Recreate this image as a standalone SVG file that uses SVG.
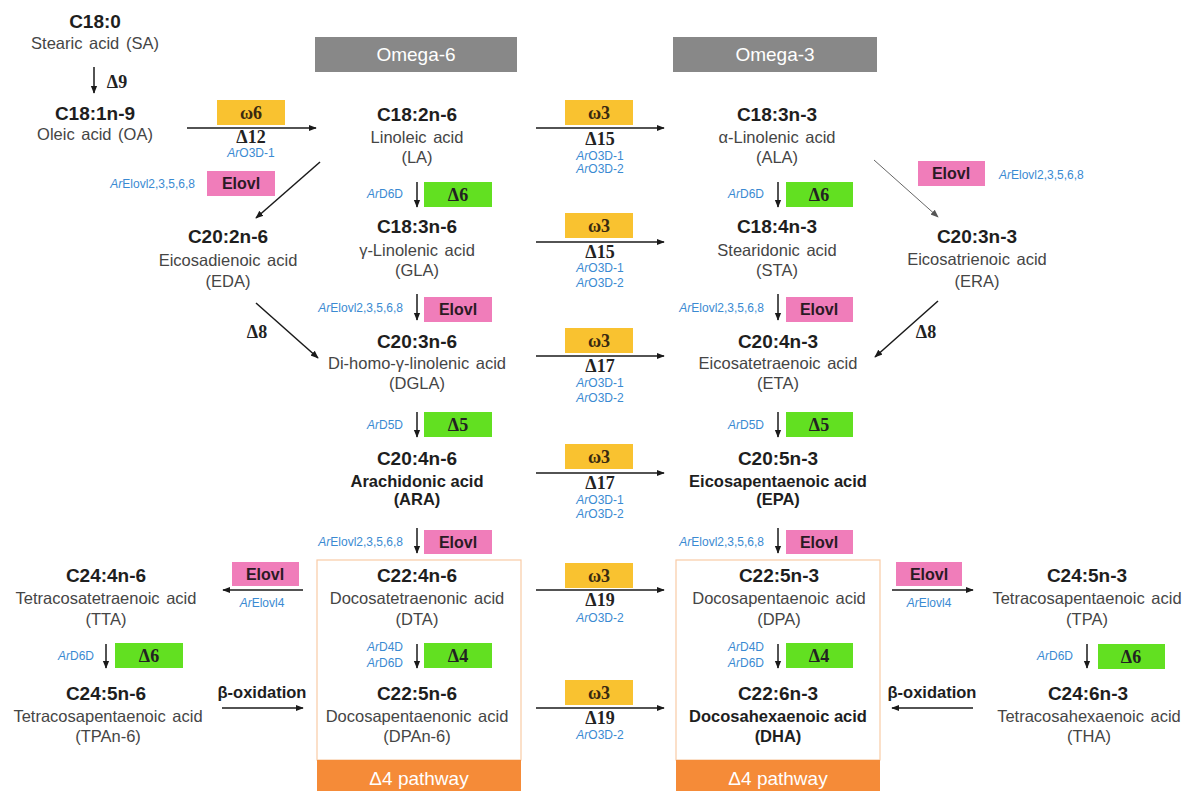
<svg xmlns="http://www.w3.org/2000/svg" width="1198" height="791" viewBox="0 0 1198 791">
<defs>
<marker id="ah" viewBox="0 0 10 10" refX="9" refY="5" markerWidth="8" markerHeight="8" orient="auto" markerUnits="userSpaceOnUse"><path d="M0,1 L10,5 L0,9 z" fill="#1a1a1a"/></marker>
<marker id="ahg" viewBox="0 0 10 10" refX="9" refY="5" markerWidth="8" markerHeight="8" orient="auto" markerUnits="userSpaceOnUse"><path d="M0,1 L10,5 L0,9 z" fill="#555"/></marker>
</defs>
<style>
text{font-family:"Liberation Sans",Arial,sans-serif}
.f{font-weight:bold;font-size:19px;fill:#1e1e1e;text-anchor:middle}
.n{font-size:16.5px;fill:#454545;text-anchor:middle;word-spacing:2px}
.nb{font-size:16.5px;font-weight:bold;fill:#1e1e1e;text-anchor:middle}
.b{font-size:12px;fill:#3a8ad2}
.bi{font-style:italic}
.r{text-anchor:end}
.m{text-anchor:middle}
.d{font-family:"Liberation Serif",serif;font-weight:bold;font-size:18px;fill:#222;text-anchor:middle}
.om{font-family:"Liberation Serif",serif;font-weight:bold;font-size:18px;fill:#3a2a10;text-anchor:middle}
.el{font-weight:bold;font-size:16px;fill:#2b1a24;text-anchor:middle}
.hd{font-size:19px;fill:#fff;text-anchor:middle}
.gold{fill:#F9C230}
.pink{fill:#F07DBA}
.green{fill:#62E021}
.ln{stroke:#1a1a1a;stroke-width:1.5;fill:none;marker-end:url(#ah)}
.lg{stroke:#666;stroke-width:1;fill:none;marker-end:url(#ahg)}
</style>
<rect width="1198" height="791" fill="#fff"/>

<g id="headers">
<rect x="315" y="37" width="202" height="35" fill="#888"/>
<text class="hd" x="416" y="61">Omega-6</text>
<rect x="673" y="37" width="204" height="35" fill="#888"/>
<text class="hd" x="775" y="61">Omega-3</text>
</g>

<g id="d4-pathway">
<rect x="317" y="560" width="204" height="200" fill="none" stroke="#F8CBA6" stroke-width="1.2"/>
<rect x="317" y="760" width="204" height="31" fill="#F58B38"/>
<text class="hd" x="419" y="785">Δ4 pathway</text>
<rect x="676" y="560" width="204" height="200" fill="none" stroke="#F8CBA6" stroke-width="1.2"/>
<rect x="676" y="760" width="204" height="31" fill="#F58B38"/>
<text class="hd" x="778" y="785">Δ4 pathway</text>
</g>

<g id="connectors">
<line class="ln" x1="94" y1="67" x2="94" y2="93"/>
<line class="ln" x1="187" y1="128" x2="316" y2="128"/>
<line class="ln" x1="320" y1="162" x2="256" y2="218"/>
<line class="ln" x1="256" y1="303" x2="318" y2="358"/>
<line class="lg" x1="874" y1="160" x2="938" y2="217"/>
<line class="ln" x1="938" y1="301" x2="875" y2="357"/>
<line class="ln" x1="536" y1="128" x2="664" y2="128"/>
<line class="ln" x1="536" y1="242" x2="664" y2="242"/>
<line class="ln" x1="536" y1="356" x2="664" y2="356"/>
<line class="ln" x1="536" y1="473" x2="664" y2="473"/>
<line class="ln" x1="536" y1="590" x2="664" y2="590"/>
<line class="ln" x1="536" y1="708" x2="664" y2="708"/>
<line class="ln" x1="417" y1="182" x2="417" y2="207"/>
<line class="ln" x1="417" y1="294" x2="417" y2="320"/>
<line class="ln" x1="417" y1="412" x2="417" y2="437"/>
<line class="ln" x1="417" y1="528" x2="417" y2="553"/>
<line class="ln" x1="417" y1="644" x2="417" y2="668"/>
<line class="ln" x1="778" y1="182" x2="778" y2="207"/>
<line class="ln" x1="778" y1="294" x2="778" y2="320"/>
<line class="ln" x1="778" y1="412" x2="778" y2="437"/>
<line class="ln" x1="778" y1="528" x2="778" y2="553"/>
<line class="ln" x1="778" y1="644" x2="778" y2="668"/>
<line class="ln" x1="303" y1="590" x2="223" y2="590"/>
<line class="ln" x1="222" y1="708" x2="303" y2="708"/>
<line class="ln" x1="106" y1="644" x2="106" y2="668"/>
<line class="ln" x1="892" y1="590" x2="973" y2="590"/>
<line class="ln" x1="973" y1="708" x2="892" y2="708"/>
<line class="ln" x1="1087" y1="644" x2="1087" y2="668"/>
</g>

<g id="enzymes">
<text class="d" x="117" y="88">Δ9</text>
<rect class="gold" x="217" y="100" width="68" height="25"/>
<text class="om" x="251" y="119">ω6</text>
<text class="d" x="251" y="143">Δ12</text>
<text class="b m" x="251" y="157"><tspan class="bi">Ar</tspan>O3D-1</text>
<rect class="pink" x="207" y="171" width="68" height="25"/>
<text class="el" x="241" y="189">Elovl</text>
<text class="b r" x="195" y="188"><tspan class="bi">Ar</tspan>Elovl2,3,5,6,8</text>
<text class="d" x="257" y="338">Δ8</text>

<rect class="pink" x="918" y="161" width="67" height="25"/>
<text class="el" x="951" y="179">Elovl</text>
<text class="b" x="999" y="179"><tspan class="bi">Ar</tspan>Elovl2,3,5,6,8</text>
<text class="d" x="926" y="338">Δ8</text>

<rect class="gold" x="565" y="100" width="68" height="25"/>
<text class="om" x="599" y="119">ω3</text>
<text class="d" x="600" y="145">Δ15</text>
<text class="b m" x="600" y="160"><tspan class="bi">Ar</tspan>O3D-1</text>
<text class="b m" x="600" y="173"><tspan class="bi">Ar</tspan>O3D-2</text>

<rect class="gold" x="565" y="213" width="68" height="25"/>
<text class="om" x="599" y="232">ω3</text>
<text class="d" x="600" y="258">Δ15</text>
<text class="b m" x="600" y="272"><tspan class="bi">Ar</tspan>O3D-1</text>
<text class="b m" x="600" y="287"><tspan class="bi">Ar</tspan>O3D-2</text>

<rect class="gold" x="565" y="328" width="68" height="25"/>
<text class="om" x="599" y="347">ω3</text>
<text class="d" x="600" y="372">Δ17</text>
<text class="b m" x="600" y="387"><tspan class="bi">Ar</tspan>O3D-1</text>
<text class="b m" x="600" y="402"><tspan class="bi">Ar</tspan>O3D-2</text>

<rect class="gold" x="565" y="444" width="68" height="25"/>
<text class="om" x="599" y="463">ω3</text>
<text class="d" x="600" y="489">Δ17</text>
<text class="b m" x="600" y="504"><tspan class="bi">Ar</tspan>O3D-1</text>
<text class="b m" x="600" y="518"><tspan class="bi">Ar</tspan>O3D-2</text>

<rect class="gold" x="565" y="563" width="68" height="25"/>
<text class="om" x="599" y="582">ω3</text>
<text class="d" x="600" y="606">Δ19</text>
<text class="b m" x="600" y="622"><tspan class="bi">Ar</tspan>O3D-2</text>

<rect class="gold" x="565" y="680" width="68" height="25"/>
<text class="om" x="599" y="699">ω3</text>
<text class="d" x="600" y="724">Δ19</text>
<text class="b m" x="600" y="739"><tspan class="bi">Ar</tspan>O3D-2</text>

<text class="b r" x="403" y="198"><tspan class="bi">Ar</tspan>D6D</text>
<rect class="green" x="424" y="182" width="68" height="25"/>
<text class="d" x="458" y="201">Δ6</text>
<text class="b r" x="403" y="312"><tspan class="bi">Ar</tspan>Elovl2,3,5,6,8</text>
<rect class="pink" x="424" y="297" width="68" height="25"/>
<text class="el" x="458" y="315">Elovl</text>
<text class="b r" x="403" y="429"><tspan class="bi">Ar</tspan>D5D</text>
<rect class="green" x="424" y="412" width="68" height="25"/>
<text class="d" x="458" y="431">Δ5</text>
<text class="b r" x="403" y="546"><tspan class="bi">Ar</tspan>Elovl2,3,5,6,8</text>
<rect class="pink" x="424" y="530" width="68" height="24"/>
<text class="el" x="458" y="548">Elovl</text>
<text class="b r" x="403" y="651"><tspan class="bi">Ar</tspan>D4D</text>
<text class="b r" x="403" y="667"><tspan class="bi">Ar</tspan>D6D</text>
<rect class="green" x="424" y="643" width="68" height="25"/>
<text class="d" x="458" y="662">Δ4</text>

<text class="b r" x="764" y="198"><tspan class="bi">Ar</tspan>D6D</text>
<rect class="green" x="786" y="182" width="67" height="25"/>
<text class="d" x="819" y="201">Δ6</text>
<text class="b r" x="764" y="312"><tspan class="bi">Ar</tspan>Elovl2,3,5,6,8</text>
<rect class="pink" x="786" y="297" width="67" height="25"/>
<text class="el" x="819" y="315">Elovl</text>
<text class="b r" x="764" y="429"><tspan class="bi">Ar</tspan>D5D</text>
<rect class="green" x="786" y="412" width="67" height="25"/>
<text class="d" x="819" y="431">Δ5</text>
<text class="b r" x="764" y="546"><tspan class="bi">Ar</tspan>Elovl2,3,5,6,8</text>
<rect class="pink" x="786" y="530" width="67" height="24"/>
<text class="el" x="819" y="548">Elovl</text>
<text class="b r" x="764" y="651"><tspan class="bi">Ar</tspan>D4D</text>
<text class="b r" x="764" y="667"><tspan class="bi">Ar</tspan>D6D</text>
<rect class="green" x="786" y="643" width="67" height="25"/>
<text class="d" x="819" y="662">Δ4</text>

<rect class="pink" x="232" y="562" width="67" height="24"/>
<text class="el" x="265" y="580">Elovl</text>
<text class="b m" x="262" y="607"><tspan class="bi">Ar</tspan>Elovl4</text>
<text class="b r" x="94" y="660"><tspan class="bi">Ar</tspan>D6D</text>
<rect class="green" x="115" y="643" width="68" height="25"/>
<text class="d" x="149" y="662">Δ6</text>
<text class="nb" x="262" y="698">β-oxidation</text>

<rect class="pink" x="896" y="562" width="66" height="24"/>
<text class="el" x="929" y="580">Elovl</text>
<text class="b m" x="929" y="607"><tspan class="bi">Ar</tspan>Elovl4</text>
<text class="b r" x="1073" y="660"><tspan class="bi">Ar</tspan>D6D</text>
<rect class="green" x="1098" y="644" width="67" height="25"/>
<text class="d" x="1131" y="663">Δ6</text>
<text class="nb" x="932" y="698">β-oxidation</text>
</g>

<g id="SA"><text class="f" x="95" y="28">C18:0</text><text class="n" x="95" y="49">Stearic acid (SA)</text></g>
<g id="OA"><text class="f" x="95" y="120">C18:1n-9</text><text class="n" x="95" y="140">Oleic acid (OA)</text></g>
<g id="LA"><text class="f" x="417" y="121">C18:2n-6</text><text class="n" x="417" y="143">Linoleic acid</text><text class="n" x="417" y="163">(LA)</text></g>
<g id="ALA"><text class="f" x="777" y="121">C18:3n-3</text><text class="n" x="777" y="143">α-Linolenic acid</text><text class="n" x="777" y="163">(ALA)</text></g>
<g id="GLA"><text class="f" x="417" y="233">C18:3n-6</text><text class="n" x="417" y="256">γ-Linolenic acid</text><text class="n" x="417" y="276">(GLA)</text></g>
<g id="STA"><text class="f" x="777" y="233">C18:4n-3</text><text class="n" x="777" y="256">Stearidonic acid</text><text class="n" x="777" y="276">(STA)</text></g>
<g id="EDA"><text class="f" x="228" y="243">C20:2n-6</text><text class="n" x="228" y="266">Eicosadienoic acid</text><text class="n" x="228" y="287">(EDA)</text></g>
<g id="ERA"><text class="f" x="977" y="243">C20:3n-3</text><text class="n" x="977" y="265">Eicosatrienoic acid</text><text class="n" x="977" y="287">(ERA)</text></g>
<g id="DGLA"><text class="f" x="417" y="348">C20:3n-6</text><text class="n" x="417" y="369">Di-homo-γ-linolenic acid</text><text class="n" x="417" y="389">(DGLA)</text></g>
<g id="ETA"><text class="f" x="778" y="348">C20:4n-3</text><text class="n" x="778" y="369">Eicosatetraenoic acid</text><text class="n" x="778" y="389">(ETA)</text></g>
<g id="ARA"><text class="f" x="417" y="465">C20:4n-6</text><text class="nb" x="417" y="487">Arachidonic acid</text><text class="nb" x="417" y="505">(ARA)</text></g>
<g id="EPA"><text class="f" x="778" y="465">C20:5n-3</text><text class="nb" x="778" y="487">Eicosapentaenoic acid</text><text class="nb" x="778" y="505">(EPA)</text></g>
<g id="TTA"><text class="f" x="106" y="582">C24:4n-6</text><text class="n" x="106" y="604">Tetracosatetraenoic acid</text><text class="n" x="106" y="625">(TTA)</text></g>
<g id="DTA"><text class="f" x="417" y="582">C22:4n-6</text><text class="n" x="417" y="604">Docosatetraenonic acid</text><text class="n" x="417" y="625">(DTA)</text></g>
<g id="DPA"><text class="f" x="779" y="582">C22:5n-3</text><text class="n" x="779" y="604">Docosapentaenoic acid</text><text class="n" x="779" y="625">(DPA)</text></g>
<g id="TPA"><text class="f" x="1087" y="582">C24:5n-3</text><text class="n" x="1087" y="604">Tetracosapentaenoic acid</text><text class="n" x="1087" y="625">(TPA)</text></g>
<g id="TPAn6"><text class="f" x="106" y="700">C24:5n-6</text><text class="n" x="108" y="722">Tetracosapentaenoic acid</text><text class="n" x="108" y="742">(TPAn-6)</text></g>
<g id="DPAn6"><text class="f" x="417" y="700">C22:5n-6</text><text class="n" x="417" y="722">Docosapentaenonic acid</text><text class="n" x="417" y="742">(DPAn-6)</text></g>
<g id="DHA"><text class="f" x="778" y="700">C22:6n-3</text><text class="nb" x="778" y="722">Docosahexaenoic acid</text><text class="nb" x="778" y="742">(DHA)</text></g>
<g id="THA"><text class="f" x="1088" y="700">C24:6n-3</text><text class="n" x="1089" y="722">Tetracosahexaenoic acid</text><text class="n" x="1089" y="742">(THA)</text></g>
</svg>
